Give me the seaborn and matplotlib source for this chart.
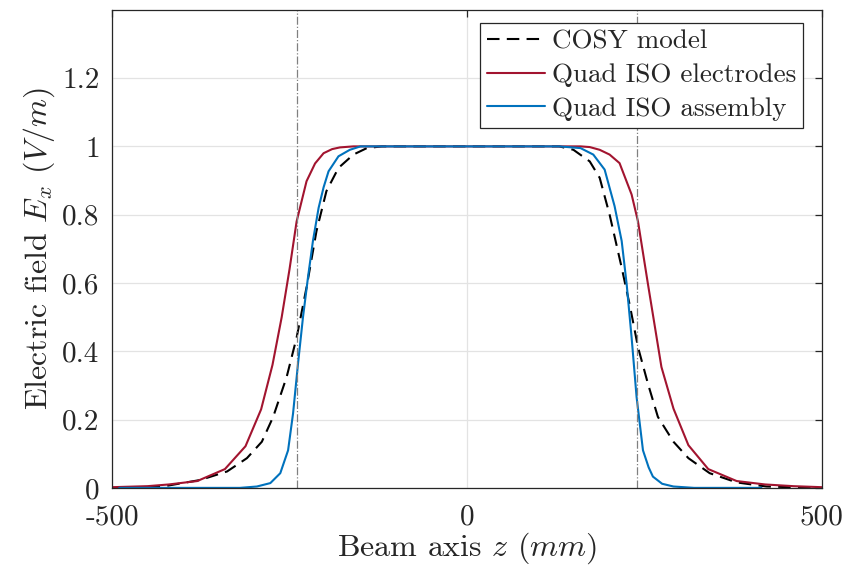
import matplotlib
matplotlib.use("Agg")
import matplotlib.pyplot as plt
import seaborn as sns

# beam axis z (mm) and field values
z_cosy = [-450, -423, -376, -338, -310, -289, -273, -254, -240, -226, -212, -198, -181, -160, -141, -120,
          0, 130, 150, 173, 187, 201, 218, 230, 241, 255, 269, 291, 312, 342, 380, 422, 490]
e_cosy = [0.002, 0.006, 0.023, 0.048, 0.087, 0.135, 0.208, 0.325, 0.44, 0.587, 0.752, 0.869, 0.937, 0.976, 0.995, 1.0,
          1.0, 1.0, 0.99, 0.956, 0.908, 0.8, 0.645, 0.529, 0.412, 0.305, 0.208, 0.135, 0.087, 0.043, 0.016, 0.004, 0.0]

z_elec = [-500, -450, -420, -380, -341, -312, -290, -274, -261, -250, -240, -226, -214, -202, -190, -179, -160,
          0, 160, 173, 187, 201, 215, 232, 241, 255, 274, 291, 312, 340, 380, 420, 460, 500]
e_elec = [0.002, 0.005, 0.01, 0.02, 0.055, 0.122, 0.23, 0.36, 0.5, 0.64, 0.78, 0.898, 0.95, 0.98, 0.992, 0.997, 1.0,
          1.0, 1.0, 0.998, 0.99, 0.976, 0.951, 0.859, 0.78, 0.597, 0.354, 0.232, 0.125, 0.055, 0.02, 0.01, 0.005, 0.002]

z_asm = [-490, -320, -296, -277, -263, -252, -245, -238, -231, -224, -217, -209, -202, -195, -181, -165, -150,
         0, 130, 160, 178, 194, 208, 218, 225, 232, 239, 248, 256, 262, 275, 291, 320, 415]
e_asm = [0.0, 0.0, 0.004, 0.014, 0.043, 0.11, 0.218, 0.364, 0.5, 0.616, 0.723, 0.82, 0.88, 0.927, 0.971, 0.99, 1.0,
         1.0, 1.0, 0.995, 0.976, 0.932, 0.825, 0.723, 0.597, 0.44, 0.266, 0.11, 0.06, 0.033, 0.012, 0.004, 0.0, 0.0]

quad_edges = [-240, 240]
x_ticks = [-500, 0, 500]
x_tick_labels = ["-500", "0", "500"]
y_ticks = [0, 0.2, 0.4, 0.6, 0.8, 1.0, 1.2]
y_tick_labels = ["0", "0.2", "0.4", "0.6", "0.8", "1", "1.2"]

sns.set_theme(style="white")
plt.rcParams["font.family"] = ["cmr10", "DejaVu Serif"]
plt.rcParams["mathtext.fontset"] = "cm"
plt.rcParams["axes.formatter.use_mathtext"] = True

fig = plt.figure(figsize=(8.49, 5.76), dpi=100)
ax = fig.add_axes([0.132, 0.153, 0.836, 0.830])

sns.lineplot(x=z_cosy, y=e_cosy, ax=ax, color="black", lw=1.5, sort=False,
             estimator=None, label="COSY model", linestyle=(0, (6, 3.5)))
sns.lineplot(x=z_elec, y=e_elec, ax=ax, color="#A2142F", lw=1.5, sort=False,
             estimator=None, label="Quad ISO electrodes")
sns.lineplot(x=z_asm, y=e_asm, ax=ax, color="#0072BD", lw=1.5, sort=False,
             estimator=None, label="Quad ISO assembly")

for zq in quad_edges:
    ax.axvline(zq, color="#808080", lw=0.9, linestyle="-.")

ax.set_xlim(-500, 500)
ax.set_ylim(0, 1.4)
ax.set_xticks(x_ticks)
ax.set_xticklabels(x_tick_labels)
ax.set_yticks(y_ticks)
ax.set_yticklabels(y_tick_labels)
ax.grid(True, color="#e3e3e3", lw=0.9)
ax.set_axisbelow(True)
ax.tick_params(direction="in", length=5, width=0.9, top=True, right=True,
               labelsize=21, color="#262626", labelcolor="#262626")
ax.tick_params(axis="x", pad=12)
ax.tick_params(axis="y", pad=9)
for s in ax.spines.values():
    s.set_color("#262626")
    s.set_linewidth(0.9)

ax.set_xlabel(r"Beam axis $z$ $(mm)$", fontsize=23, color="#262626", labelpad=0)
ax.set_ylabel(r"Electric field $E_x$ $(V/m)$", fontsize=23, color="#262626", labelpad=4)

leg = ax.legend(loc="upper right", bbox_to_anchor=(0.973, 0.973), borderaxespad=0,
                fontsize=19.5, frameon=True, fancybox=False, framealpha=1,
                edgecolor="#262626", handlelength=2.15, handletextpad=0.25, borderpad=0.25,
                labelspacing=0.36)
leg.get_frame().set_linewidth(0.9)

fig.savefig("out.png", dpi=100)
